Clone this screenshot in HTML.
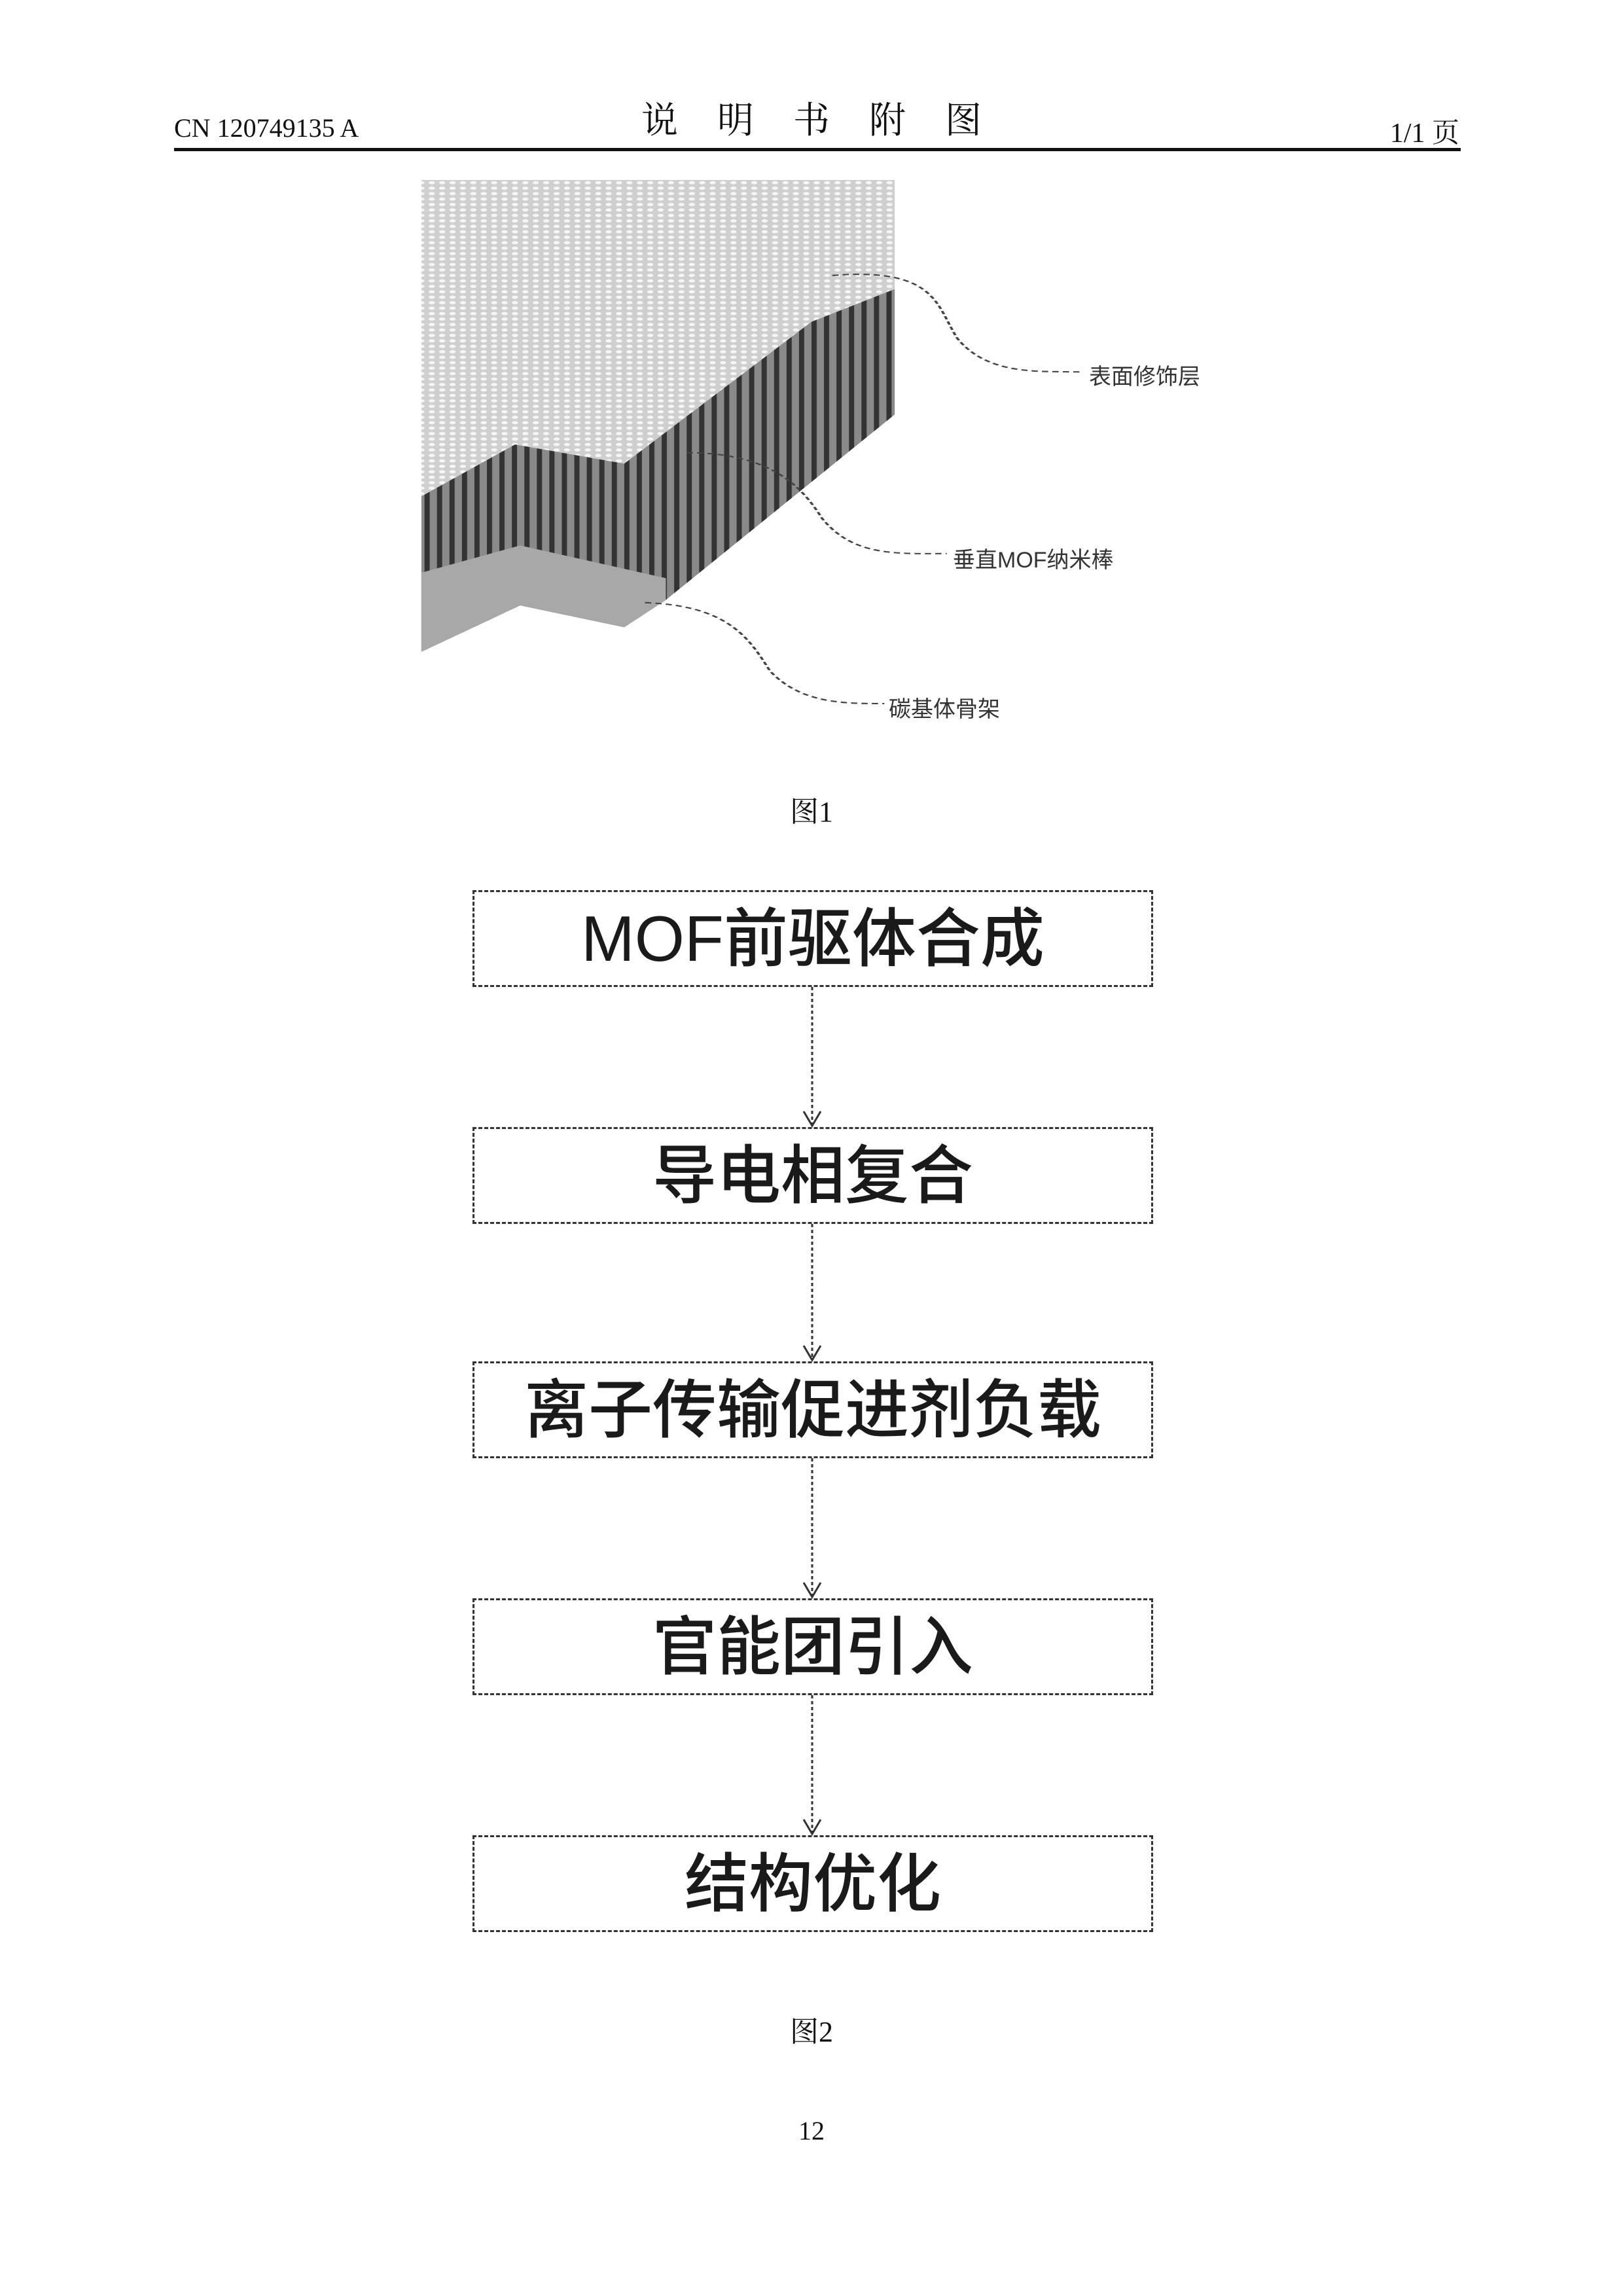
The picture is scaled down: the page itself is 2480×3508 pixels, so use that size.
<!DOCTYPE html>
<html><head><meta charset="utf-8"><style>
body{margin:0;width:2480px;height:3508px;background:#fff;position:relative;overflow:hidden;font-family:"Liberation Serif","Noto Serif CJK SC",serif;color:#111}
.a{position:absolute;white-space:nowrap}
.box{position:absolute;left:722px;width:1040px;height:148px;border:3px dashed #333;box-sizing:border-box;display:flex;align-items:center;justify-content:center;font-family:"Liberation Sans","Noto Sans CJK SC",sans-serif;font-size:98px;font-weight:500;color:#1a1a1a;line-height:1}
.lbl{position:absolute;font-family:"Liberation Sans","Noto Sans CJK SC",sans-serif;font-size:34px;color:#333;white-space:nowrap}
</style></head><body>
<div class="a" style="left:266px;top:172px;font-size:40px">CN 120749135 A</div>
<div class="a" style="left:0;width:2480px;top:140px;text-align:center;font-size:56px;font-family:'Noto Serif CJK SC',serif;letter-spacing:60px;padding-left:60px;box-sizing:border-box">说明书附图</div>
<div class="a" style="right:250px;top:170px;font-size:42px">1/1 页</div>
<div class="a" style="left:266px;top:226px;width:1966px;height:5px;background:#111"></div>

<svg class="a" style="left:0;top:0" width="2480" height="1300" viewBox="0 0 1560 1560" preserveAspectRatio="none">
<defs>
<pattern id="dots" width="10" height="10" patternUnits="userSpaceOnUse"><rect width="10" height="10" fill="#cfcfcf"/><circle cx="5" cy="5" r="3" fill="#f6f6f6"/></pattern>
<pattern id="str" width="12" height="10" patternUnits="userSpaceOnUse"><rect width="12" height="10" fill="#8a8a8a"/><rect width="5" height="10" fill="#333"/></pattern>
</defs>
<polygon points="405,330 860,330 860,530 780,590 600,850 495,815 405,910" fill="url(#dots)"/>
<polygon points="405,910 495,815 600,850 780,590 860,530 860,760 640,1100 600,1150 500,1110 405,1195" fill="url(#str)"/>
<polygon points="405,1050 500,1000 640,1060 640,1100 600,1150 500,1110 405,1195" fill="#a8a8a8"/>
<g fill="none" stroke="#444" stroke-width="2.5" stroke-dasharray="6,4">
<path d="M800,505 C900,490 900,560 920,620 C950,690 1000,680 1040,682"/>
<path d="M660,830 C740,830 770,890 790,950 C820,1020 860,1015 910,1015"/>
<path d="M620,1105 C700,1110 720,1170 740,1230 C770,1290 810,1290 850,1290"/>
</g>
</svg>
<div class="lbl" style="left:1664px;top:548px">表面修饰层</div>
<div class="lbl" style="left:1456px;top:828px">垂直MOF纳米棒</div>
<div class="lbl" style="left:1358px;top:1056px">碳基体骨架</div>
<div class="a" style="left:0;width:2480px;text-align:center;top:1204px;font-size:44px">图1</div>

<div class="box" style="top:1360px">MOF前驱体合成</div>
<div class="box" style="top:1722px">导电相复合</div>
<div class="box" style="top:2080px">离子传输促进剂负载</div>
<div class="box" style="top:2442px">官能团引入</div>
<div class="box" style="top:2804px">结构优化</div>
<svg class="a" style="left:0;top:0" width="2480" height="3000">
<g stroke="#333" stroke-width="3" fill="none">
<g stroke-dasharray="5,4"><line x1="1241" y1="1508" x2="1241" y2="1720"/><line x1="1241" y1="1870" x2="1241" y2="2078"/><line x1="1241" y1="2228" x2="1241" y2="2440"/><line x1="1241" y1="2590" x2="1241" y2="2802"/></g>
<polyline points="1228,1698 1241,1720 1254,1698"/><polyline points="1228,2056 1241,2078 1254,2056"/><polyline points="1228,2418 1241,2440 1254,2418"/><polyline points="1228,2780 1241,2802 1254,2780"/>
</g></svg>
<div class="a" style="left:0;width:2480px;text-align:center;top:3068px;font-size:44px">图2</div>
<div class="a" style="left:0;width:2480px;text-align:center;top:3232px;font-size:40px">12</div>
</body></html>
